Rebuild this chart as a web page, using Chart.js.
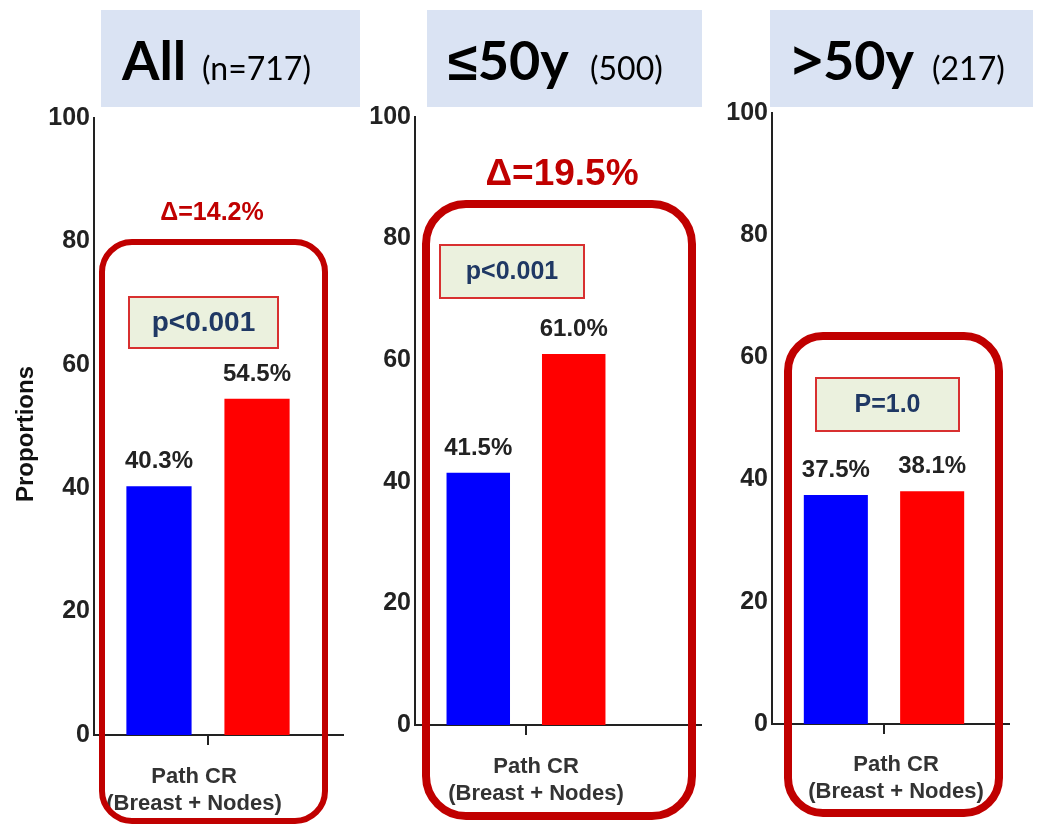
<!DOCTYPE html>
<html>
<head>
<meta charset="utf-8">
<script src="https://cdn.jsdelivr.net/npm/chart.js@4"></script>
<style>
  html, body { margin: 0; padding: 0; background: #ffffff; }
  #wrap { position: relative; width: 1038px; height: 825px; overflow: hidden; }
  canvas { position: absolute; left: 0; top: 0; }
</style>
</head>
<body>
<div id="wrap">
  <canvas id="c0" width="1038" height="825"></canvas>
  <canvas id="c1" width="1038" height="825"></canvas>
  <canvas id="c2" width="1038" height="825"></canvas>
</div>
<script>
// ---- data ----
const categories = [['Path CR', '(Breast + Nodes)']];
const panelTitles = ['All', '≤50y', '>50y'];
const panelCounts = ['(n=717)', '(500)', '(217)'];
const seriesNames = ['Group A', 'Group B'];
const blueValues = [40.3, 41.5, 37.5];
const redValues = [54.5, 61.0, 38.1];
const deltaLabels = ['Δ=14.2%', 'Δ=19.5%', ''];
const pLabels = ['p<0.001', 'p<0.001', 'P=1.0'];
const yTickValues = [0, 20, 40, 60, 80, 100];
const yAxisTitle = 'Proportions';

// ---- layout / style per panel ----
const panels = [
  { L: 94, R: 322, T: 118, B: 735, ext: 344, labelOffset: -14, tickPad: 19,
    box: { x: 102, y: 242, w: 223, h: 579, r: 30, lw: 6 },
    pbox: { x: 129, y: 297, w: 149, h: 51, size: 28 },
    delta: { x: 212, y: 220, size: 25 },
    title: { x: 101, y: 10, w: 259, h: 97, mx: 122, sx: 202, base: 80 },
    yTitle: true },
  { L: 415, R: 637, T: 117, B: 725, ext: 702, labelOffset: 10, tickPad: 19,
    box: { x: 426, y: 204, w: 266, h: 612, r: 40, lw: 8 },
    pbox: { x: 440, y: 245, w: 144, h: 53, size: 25 },
    delta: { x: 562, y: 185, size: 37 },
    title: { x: 427, y: 10, w: 275, h: 97, mx: 448, sx: 590, base: 80 },
    yTitle: false },
  { L: 772, R: 996, T: 113, B: 724, ext: 1010, labelOffset: 12, tickPad: 18,
    box: { x: 788, y: 336, w: 211, h: 477, r: 35, lw: 8 },
    pbox: { x: 816, y: 378, w: 143, h: 53, size: 25 },
    delta: { x: 0, y: 0, size: 25 },
    title: { x: 770, y: 10, w: 263, h: 97, mx: 792, sx: 932, base: 80 },
    yTitle: false }
];

const AXIS = '#222222';
const DARKRED = '#c00000';
const NAVY = '#1f3864';
const SANS = '"Liberation Sans", Arial, sans-serif';
const TITLEFONT = 'Lato, "Open Sans", sans-serif';

Chart.defaults.font.family = SANS;

function roundRect(ctx, x, y, w, h, r) {
  ctx.beginPath();
  ctx.moveTo(x + r, y);
  ctx.lineTo(x + w - r, y);
  ctx.arcTo(x + w, y, x + w, y + r, r);
  ctx.lineTo(x + w, y + h - r);
  ctx.arcTo(x + w, y + h, x + w - r, y + h, r);
  ctx.lineTo(x + r, y + h);
  ctx.arcTo(x, y + h, x, y + h - r, r);
  ctx.lineTo(x, y + r);
  ctx.arcTo(x, y, x + r, y, r);
  ctx.closePath();
}

const decoPlugin = {
  id: 'deco',
  afterDraw(chart, args, o) {
    const ctx = chart.ctx;
    const area = chart.chartArea;
    const p = o.panel;
    const i = o.index;
    ctx.save();

    // title box
    ctx.fillStyle = '#dae3f3';
    ctx.fillRect(p.title.x, p.title.y, p.title.w, p.title.h);
    ctx.fillStyle = '#000000';
    ctx.textBaseline = 'alphabetic';
    ctx.textAlign = 'left';
    let main = panelTitles[i];
    let mx = p.title.mx;
    const first = main.charAt(0);
    if (first === '≤' || first === '>') {
      ctx.font = 'bold 54px "Noto Sans", sans-serif';
      ctx.fillText(first, mx, p.title.base);
      mx += ctx.measureText(first).width;
      main = main.slice(1);
    }
    ctx.font = 'bold 54px ' + TITLEFONT;
    ctx.fillText(main, mx, p.title.base);
    ctx.font = '32px ' + TITLEFONT;
    ctx.fillText(panelCounts[i], p.title.sx, p.title.base);

    // x axis line extension
    ctx.strokeStyle = AXIS;
    ctx.lineWidth = 2;
    ctx.beginPath();
    ctx.moveTo(area.right - 1, area.bottom);
    ctx.lineTo(p.ext, area.bottom);
    ctx.stroke();

    // value labels
    ctx.fillStyle = '#222222';
    ctx.font = 'bold 24px ' + SANS;
    ctx.textAlign = 'center';
    ctx.textBaseline = 'alphabetic';
    chart.data.datasets.forEach((ds, di) => {
      const meta = chart.getDatasetMeta(di);
      meta.data.forEach((bar, bi) => {
        ctx.fillText(ds.data[bi].toFixed(1) + '%', bar.x, bar.y - 18);
      });
    });

    // red rounded box
    ctx.strokeStyle = DARKRED;
    ctx.lineWidth = p.box.lw;
    roundRect(ctx, p.box.x, p.box.y, p.box.w, p.box.h, p.box.r);
    ctx.stroke();

    // p-value box
    ctx.fillStyle = '#ebf1de';
    ctx.fillRect(p.pbox.x, p.pbox.y, p.pbox.w, p.pbox.h);
    ctx.strokeStyle = '#d83030';
    ctx.lineWidth = 2;
    ctx.strokeRect(p.pbox.x, p.pbox.y, p.pbox.w, p.pbox.h);
    ctx.fillStyle = NAVY;
    ctx.font = 'bold ' + p.pbox.size + 'px ' + SANS;
    ctx.textAlign = 'center';
    ctx.textBaseline = 'middle';
    ctx.fillText(pLabels[i], p.pbox.x + p.pbox.w / 2, p.pbox.y + p.pbox.h / 2 + 1);

    // delta label
    if (deltaLabels[i]) {
      ctx.fillStyle = DARKRED;
      ctx.font = 'bold ' + p.delta.size + 'px ' + SANS;
      ctx.textAlign = 'center';
      ctx.textBaseline = 'alphabetic';
      ctx.fillText(deltaLabels[i], p.delta.x, p.delta.y);
    }

    // y axis title
    if (p.yTitle) {
      ctx.save();
      ctx.translate(33, 434);
      ctx.rotate(-Math.PI / 2);
      ctx.fillStyle = '#111111';
      ctx.font = 'bold 24px ' + SANS;
      ctx.textAlign = 'center';
      ctx.textBaseline = 'alphabetic';
      ctx.fillText(yAxisTitle, 0, 0);
      ctx.restore();
    }
    ctx.restore();
  }
};

const YW = 60, XH = 85;

panels.forEach((p, i) => {
  new Chart(document.getElementById('c' + i), {
    type: 'bar',
    data: {
      labels: categories,
      datasets: [
        { label: seriesNames[0], data: [blueValues[i]], backgroundColor: '#0000ff',
          borderWidth: 0, categoryPercentage: 0.86, barPercentage: 0.665 },
        { label: seriesNames[1], data: [redValues[i]], backgroundColor: '#ff0000',
          borderWidth: 0, categoryPercentage: 0.86, barPercentage: 0.665 }
      ]
    },
    options: {
      responsive: false,
      devicePixelRatio: 1,
      animation: false,
      events: [],
      layout: {
        padding: { left: p.L - YW, right: 1038 - p.R, top: p.T, bottom: Math.max(0, 825 - p.B - XH) }
      },
      plugins: {
        legend: { display: false },
        tooltip: { enabled: false },
        title: { display: false },
        deco: { panel: p, index: i }
      },
      scales: {
        x: {
          type: 'category',
          offset: true,
          grid: { display: true, drawOnChartArea: false, offset: false, drawTicks: true,
                  tickLength: 10, color: AXIS, lineWidth: 2 },
          border: { display: true, color: AXIS, width: 2 },
          ticks: { color: '#333333', font: { size: 22, weight: 'bold', lineHeight: 1.2 },
                   padding: p.tickPad, labelOffset: p.labelOffset, maxRotation: 0, autoSkip: false },
          afterFit(scale) { scale.height = 825 - p.B - Math.max(0, 825 - p.B - XH); }
        },
        y: {
          min: yTickValues[0],
          max: yTickValues[yTickValues.length - 1],
          afterBuildTicks(scale) { scale.ticks = yTickValues.map(v => ({ value: v })); },
          grid: { display: false, drawTicks: false },
          border: { display: true, color: AXIS, width: 2 },
          ticks: { color: '#222222', font: { size: 25, weight: 'bold' }, padding: 4 },
          afterFit(scale) { scale.width = YW; }
        }
      }
    },
    plugins: [decoPlugin]
  });
});
</script>
</body>
</html>
